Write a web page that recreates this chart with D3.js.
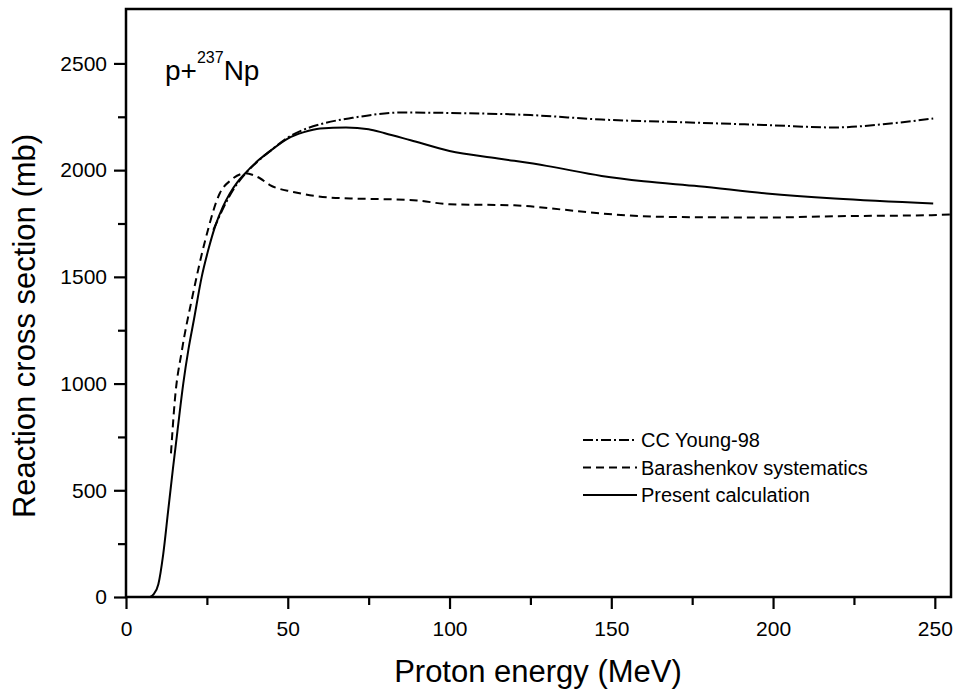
<!DOCTYPE html>
<html>
<head>
<meta charset="utf-8">
<script src="https://cdn.jsdelivr.net/npm/d3@7.9.0/dist/d3.min.js"></script>
<style>
  body { margin: 0; background: #fff; }
  svg { display: block; font-family: "Liberation Sans", Arial, Helvetica, sans-serif; }
</style>
</head>
<body>
<svg id="chart" width="958" height="694"></svg>
<script>
// Present calculation (solid)
const presentE = [7.5, 8.5, 10, 11.5, 13, 14.5, 16, 17.7, 19.3, 21, 23.4, 25.5, 27.5, 30, 32.1, 34.5, 36.8, 41, 45, 50, 55, 60, 68, 75, 80, 88, 100, 115, 130, 147, 160, 177, 198, 219, 249.5];
const presentXS = [0, 12, 60, 200, 400, 600, 790, 1000, 1160, 1300, 1500, 1630, 1734, 1830, 1891, 1945, 1985, 2047, 2095, 2148, 2178, 2195, 2200, 2192, 2173, 2140, 2090, 2055, 2020, 1973, 1948, 1925, 1891, 1867, 1844];

// CC Young-98 (dash-dot)
const youngE = [27, 30, 33, 37, 41, 45, 50, 55, 60, 70, 85, 100, 125, 147, 177, 198, 219, 234, 249.5];
const youngXS = [1720, 1820, 1905, 1985, 2045, 2095, 2152, 2190, 2215, 2245, 2270, 2268, 2258, 2237, 2222, 2211, 2200, 2215, 2242];

// Barashenkov systematics (dashed)
const barE = [13.9, 15.1, 17.3, 20.3, 24.5, 29, 32.4, 36.8, 41.4, 44.5, 51.7, 59, 69.3, 80, 90, 100, 120, 135, 147, 167, 198, 219, 249, 255];
const barXS = [673, 923, 1157, 1391, 1672, 1892, 1953, 1985, 1962, 1930, 1898, 1878, 1867, 1864, 1858, 1840, 1835, 1815, 1797, 1781, 1778, 1784, 1789, 1792];

const xMajor = [0, 50, 100, 150, 200, 250];
const xMinor = [25, 75, 125, 175, 225];
const yMajor = [0, 500, 1000, 1500, 2000, 2500];
const yMinor = [250, 750, 1250, 1750, 2250];

const legendLabels = ["CC Young-98", "Barashenkov systematics", "Present calculation"];
const legendDash = ["10,3,2,3", "8,5", null];

const margin = { left: 126, right: 7, top: 9, bottom: 97 };
const W = 958, H = 694;

const svg = d3.select('#chart');
const x = d3.scaleLinear().domain([0, 255]).range([margin.left, W - margin.right]);
const y = d3.scaleLinear().domain([0, 2755]).range([H - margin.bottom, margin.top]);

function series(es, vs) { return es.map((e, i) => [e, vs[i]]); }

const line = d3.line()
  .x(d => x(d[0]))
  .y(d => y(d[1]))
  .curve(d3.curveMonotoneX);

const plot = svg.append('g');
const curves = [
  { data: series(youngE, youngXS), dash: legendDash[0] },
  { data: series(barE, barXS), dash: legendDash[1] },
  { data: series(presentE, presentXS), dash: legendDash[2] },
];
curves.forEach(c => {
  plot.append('path')
    .attr('d', line(c.data))
    .attr('fill', 'none')
    .attr('stroke', '#000')
    .attr('stroke-width', 2)
    .attr('stroke-dasharray', c.dash);
});

// axes
const x0 = y(0), y0 = x(0);
function styleAxis(g) {
  g.select('.domain').remove();
  g.selectAll('.tick line').attr('stroke', '#000').attr('stroke-width', 2.2);
  g.selectAll('.tick text').attr('fill', '#000').style('font-size', '21px')
    .style('font-family', '"Liberation Sans", Arial, sans-serif');
}
svg.append('g').attr('transform', `translate(0,${x0})`)
  .call(d3.axisBottom(x).tickValues(xMajor).tickSize(12).tickPadding(12).tickFormat(d3.format('d')))
  .call(styleAxis);
svg.append('g').attr('transform', `translate(0,${x0})`)
  .call(d3.axisBottom(x).tickValues(xMinor).tickSize(8).tickFormat(''))
  .call(styleAxis);
svg.append('g').attr('transform', `translate(${y0},0)`)
  .call(d3.axisLeft(y).tickValues(yMajor).tickSize(12).tickPadding(7).tickFormat(d3.format('d')))
  .call(styleAxis);
svg.append('g').attr('transform', `translate(${y0},0)`)
  .call(d3.axisLeft(y).tickValues(yMinor).tickSize(8).tickFormat(''))
  .call(styleAxis);

// frame
svg.append('rect')
  .attr('x', x(0)).attr('y', y(2755))
  .attr('width', x(255) - x(0)).attr('height', y(0) - y(2755))
  .attr('fill', 'none').attr('stroke', '#000').attr('stroke-width', 2.5);

// axis titles
svg.append('text')
  .attr('x', 538).attr('y', 682)
  .attr('text-anchor', 'middle')
  .style('font-size', '31px')
  .text('Proton energy (MeV)');

svg.append('text')
  .attr('transform', 'translate(35,326) rotate(-90)')
  .attr('text-anchor', 'middle')
  .style('font-size', '31px')
  .text('Reaction cross section (mb)');

// reaction label
const lab = svg.append('text').attr('x', 165).attr('y', 80).style('font-size', '28px');
lab.append('tspan').text('p+');
lab.append('tspan').attr('dy', -17).style('font-size', '16px').text('237');
lab.append('tspan').attr('dy', 17).text('Np');

// legend
const leg = svg.append('g');
legendLabels.forEach((t, i) => {
  const ly = 440 + i * 27.5;
  leg.append('line')
    .attr('x1', 583).attr('x2', 637).attr('y1', ly).attr('y2', ly)
    .attr('stroke', '#000').attr('stroke-width', 1.8)
    .attr('stroke-dasharray', legendDash[i]);
  leg.append('text')
    .attr('x', 641).attr('y', ly).attr('dy', '0.35em')
    .style('font-size', '20px')
    .text(t);
});
</script>
</body>
</html>
